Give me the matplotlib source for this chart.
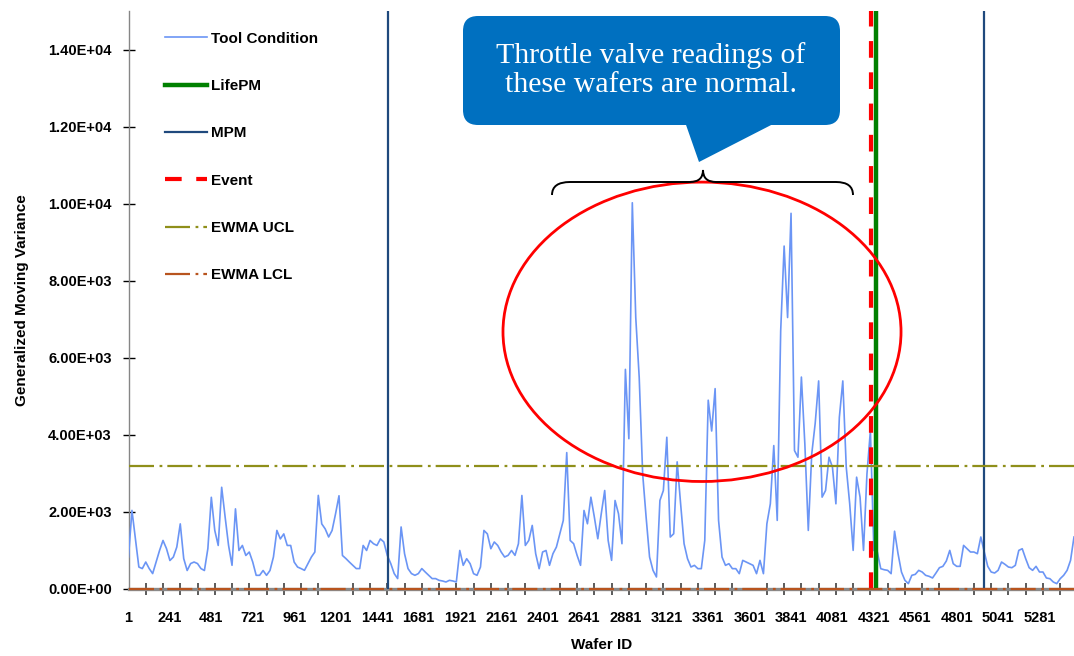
import numpy as np
import matplotlib.pyplot as plt
from matplotlib.patches import Ellipse, FancyBboxPatch, Polygon, PathPatch
from matplotlib.path import Path
from matplotlib.transforms import Affine2D

plt.rcParams['font.family'] = ['Liberation Sans', 'DejaVu Sans']
plt.rcParams['lines.scale_dashes'] = False

# Generalized moving variance, one reading every 20 wafers starting at wafer 1
wafer_step = 20
tool_condition = [
    830, 2040, 1300, 570, 530, 700, 530, 400, 700, 1000,
    1260, 1050, 740, 830, 1090, 1690, 790, 480, 660, 700,
    660, 530, 480, 1050, 2380, 1520, 1130, 2640, 1870, 1130,
    615, 2080, 1000, 1130, 870, 960, 700, 355, 355, 480,
    355, 480, 830, 1520, 1300, 1430,
    1130, 1130, 700, 570, 530, 485, 660, 830, 960, 2430,
    1690, 1560, 1350, 1520, 1950, 2420, 870, 790, 700, 615,
    530, 530, 1130, 1000, 1260, 1175, 1130, 1300, 1220, 870,
    660, 400, 270, 1610, 915, 530, 400, 355, 400, 530,
    440, 355, 270, 270, 225,
    208, 182, 225, 208, 182, 1000, 614, 786, 657, 398,
    355, 570, 1520, 1430, 1045, 1220, 1130, 960, 830, 873,
    1000, 873, 1175, 2427, 1130, 1260, 1650, 916, 527, 960,
    1000, 614, 916, 1088, 1430, 1780, 3540, 1260, 1175, 873,
    614, 2038, 1693, 2383, 1866, 1304,
    1952, 2556, 1261, 743, 2297, 1952, 1175, 5700, 3900, 10024,
    7045, 5492, 2988, 1866, 830, 484, 312, 2297, 2556, 3938,
    1348, 1434, 3300, 2211, 1175, 786, 571, 614, 528, 528,
    1261, 4900, 4100, 5200, 1780, 830, 614, 657, 528, 528,
    398, 743, 700, 657, 614, 398, 743,
    398, 1693, 2211, 3722, 1780, 6700, 8900, 7045, 9750, 3592,
    3420, 5500, 3765, 1520, 3506, 4300, 5400, 2384, 2556, 3420,
    3160, 2211, 4456, 5400, 3160, 2211, 1002, 2902, 2384, 1002,
    2988, 4110,
    1000, 960, 527, 500, 484, 398, 1500, 920, 441, 225,
    139, 355, 380, 484, 441, 355, 329, 286, 415, 553,
    588, 726, 1002, 657, 588, 588, 1132, 1045, 960, 960,
    916, 1350, 960, 588, 441, 415, 484, 700, 640, 570,
    553, 614, 1002, 1045, 786, 553, 484, 588, 441, 441,
    286, 268, 182, 139, 268, 355, 484, 743, 1350,
]
wafer_ids = 1 + wafer_step * np.arange(len(tool_condition))

mpm_wafers = [1505, 4962]
lifepm_wafer = 4331
event_wafer = 4304
ewma_ucl = 3200
ewma_lcl = 0

xtick_labels = list(range(1, 5282, 240))
yticks = list(range(0, 14001, 2000))

fig = plt.figure(figsize=(10.74, 6.56), dpi=100)
ax = fig.add_axes([128.5 / 1074, 1 - 589 / 656, 1 - 128.5 / 1074, 578 / 656])

ax.plot(wafer_ids, tool_condition, color='#6b95f5', lw=1.2, label='Tool Condition', zorder=3)
ax.axvline(lifepm_wafer, color='#008000', lw=3.2, label='LifePM', zorder=4)
for i, w in enumerate(mpm_wafers):
    ax.axvline(w, color='#1f497d', lw=1.6, label='MPM' if i == 0 else None, zorder=4)
ax.axvline(event_wafer, color='#ff0000', lw=3.0, dashes=(12, 10.5), label='Event', zorder=5)
ax.axhline(ewma_ucl, color='#8f8f1a', lw=1.6, dashes=(18, 4, 2, 3.6), label='EWMA UCL', zorder=4)
ax.axhline(ewma_lcl, color='#b8541e', lw=1.6, dashes=(18, 4, 2, 3.6), label='EWMA LCL',
           zorder=6, clip_on=False)

ax.set_xlim(1, 5481)
ax.set_ylim(0, 15000)

for side in ('top', 'right'):
    ax.spines[side].set_visible(False)
ax.spines['left'].set_color('#868686')
ax.spines['left'].set_linewidth(1.0)
ax.spines['bottom'].set_color('#8a8a8a')
ax.spines['bottom'].set_linewidth(2.4)

ax.set_yticks(yticks)
ax.set_yticklabels([f'{v:.2E}' for v in yticks], fontsize=10.5, fontweight='bold')
ax.tick_params(axis='y', direction='inout', length=8, width=1.0, color='black', pad=8)

ax.set_xticks(xtick_labels)
ax.set_xticklabels([str(v) for v in xtick_labels], fontsize=10.5, fontweight='bold')
ax.set_xticks(np.arange(1, 5481, 100), minor=True)
ax.tick_params(axis='x', which='major', length=0, pad=16)
ax.tick_params(axis='x', which='minor', direction='inout', length=9, width=1.2, color='#404040')

ax.set_xlabel('Wafer ID', fontsize=11, fontweight='bold', labelpad=9)
ax.set_ylabel('Generalized Moving Variance', fontsize=11, fontweight='bold', labelpad=14)

leg = ax.legend(loc='upper left', bbox_to_anchor=(157 / 1074, 1 - 24 / 656),
                bbox_transform=fig.transFigure, frameon=False, borderpad=0,
                handlelength=2.8, handletextpad=0.25, labelspacing=2.18,
                prop={'size': 11, 'weight': 'bold'})

# red ring around the abnormal stretch
ax.add_patch(Ellipse((3325, 6675), 2307, 7770, fill=False, edgecolor='#ff0000', lw=2.0, zorder=7))

# annotation shapes placed in pixel units measured from the top-left corner
px = Affine2D().scale(0.01, -0.01).translate(0, 6.56) + fig.dpi_scale_trans

callout = '#0070c0'
fig.add_artist(FancyBboxPatch((478, 31), 347, 79, boxstyle='round,pad=15',
                              facecolor=callout, edgecolor='none', transform=px))
fig.add_artist(Polygon([(685, 122), (777, 122), (699, 162)], closed=True,
                       facecolor=callout, edgecolor='none', transform=px))
fig.text(651, 70, 'Throttle valve readings of\nthese wafers are normal.', transform=px,
         ha='center', va='center', color='white', fontsize=21.5, linespacing=1.15,
         family=['Liberation Serif', 'DejaVu Serif'])

brace = Path(
    [(552, 195), (552, 182), (570, 182), (690, 182), (703, 182), (703, 170),
     (703, 182), (716, 182), (836, 182), (853, 182), (853, 195)],
    [Path.MOVETO, Path.CURVE3, Path.CURVE3, Path.LINETO, Path.CURVE3, Path.CURVE3,
     Path.CURVE3, Path.CURVE3, Path.LINETO, Path.CURVE3, Path.CURVE3])
fig.add_artist(PathPatch(brace, fill=False, edgecolor='black', lw=1.4, transform=px))

fig.savefig('out.png', dpi=100)
